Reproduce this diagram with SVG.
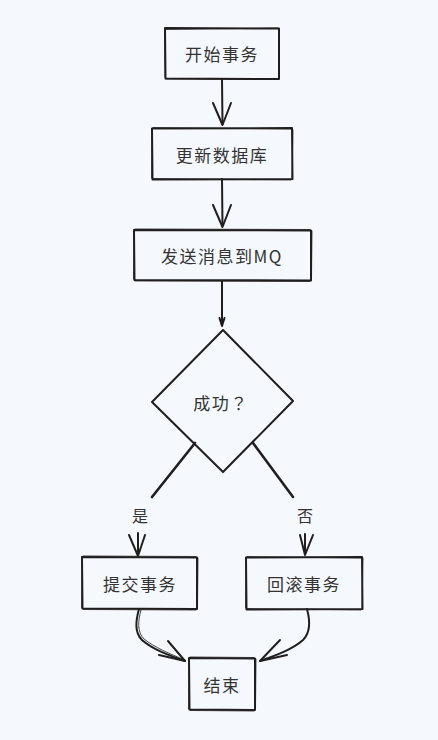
<svg xmlns="http://www.w3.org/2000/svg" width="438" height="740" viewBox="0 0 438 740">
<defs>
<style>
.bg{fill:#f5f9fd}
.box{fill:none;stroke:#1f1f1f;stroke-width:2;stroke-linejoin:round;stroke-linecap:round}
.box2{fill:none;stroke:#1f1f1f;stroke-width:1;stroke-linecap:round;opacity:0.8}
.edge{fill:none;stroke:#1f1f1f;stroke-width:2;stroke-linecap:round;stroke-linejoin:round}
.t{font-family:"Noto Sans CJK SC","Noto Sans",sans-serif;font-size:17px;fill:#333;text-anchor:middle;dominant-baseline:central;letter-spacing:1.5px}
.tq{font-family:"Noto Sans CJK TC","Noto Sans CJK SC",sans-serif}
.lbl{font-family:"Noto Sans CJK SC","Noto Sans",sans-serif;font-size:16px;fill:#333;text-anchor:middle;dominant-baseline:central}
</style>
</defs>
<rect class="bg" x="0" y="0" width="438" height="740"/>

<g id="connectors">
  <path class="edge" d="M222,79 L222.5,124"/>
  <path class="edge" d="M213,103 L222.5,125 L231,103"/>
  <path class="edge" d="M222,179 L222.5,226"/>
  <path class="edge" d="M213,205 L222.5,227 L231,205"/>
  <path class="edge" d="M222,281 L222,325"/>
  <path class="edge" d="M219.5,318 L222,326 L224.5,318"/>
  <path class="edge" d="M195,443 L152,497" style="stroke-width:2.6"/>
  <path class="edge" d="M138,533 L138,555"/>
  <path class="edge" d="M129,535 L138,556 L145,535"/>
  <path class="edge" d="M253,443 L293,497" style="stroke-width:2.6"/>
  <path class="edge" d="M305,534 L305,554"/>
  <path class="edge" d="M300,535 L305,555 L313,535"/>
  <path class="edge" d="M139,609 C136,620 134,632 142,640 C152,649 168,655 185,661"/>
  <path class="box2" d="M141,610 C138,621 137,632 144,639 C154,647 170,654 185,660"/>
  <path class="edge" d="M168,641 L185,661 L159,655"/>
  <path class="edge" d="M307,609 C310,620 311,632 303,640 C293,649 277,655 260,661"/>
  <path class="edge" d="M280,640 L260,661 L287,655"/>
</g>

<g id="node-start">
  <path class="box" d="M165,28 L279,28.5 L279,79 L165.5,78.5 Z"/>
  <path class="box2" d="M166,29.5 L278,28 M278.5,30 L279.5,78 M278,79.5 L166,79 M165,77 L164.5,30"/>
  <text class="t" x="222" y="53">开始事务</text>
</g>

<g id="node-update">
  <path class="box" d="M152,128.5 L292,128 L292.5,179 L152.5,179.5 Z"/>
  <path class="box2" d="M153,127.5 L291,129 M293,130 L292,178 M291,180 L153,178.5 M151.5,178 L152,130"/>
  <text class="t" x="222" y="154">更新数据库</text>
</g>

<g id="node-send">
  <path class="box" d="M134,230 L311,230.5 L311,280.5 L134.5,280 Z"/>
  <path class="box2" d="M135,229 L310,229.5 M312,231 L311.5,279 M310,281.5 L135,281 M133.5,279 L134,231"/>
  <text class="t" x="222" y="255">发送消息到MQ</text>
</g>

<g id="node-decision">
  <path class="box" d="M223,330 L293,401 L223,472 L152,402 Z"/>
  <path class="box2" d="M224,331 L292.5,400 M292,402 L224,471 M222,471 L153,403 M153,401 L222,331"/>
  <text class="t tq" x="221" y="402">成功？</text>
</g>

<text class="lbl" x="140" y="515">是</text>
<text class="lbl" x="305" y="515">否</text>

<g id="node-commit">
  <path class="box" d="M82,557 L197,557.5 L197,609 L82.5,608.5 Z"/>
  <path class="box2" d="M83,556 L196,556.5 M198,558 L197.5,608 M196,610 L83,609.5 M81.5,608 L82,558"/>
  <text class="t" x="140" y="583">提交事务</text>
</g>

<g id="node-rollback">
  <path class="box" d="M246,557.5 L362,557 L362.5,609 L246.5,609.5 Z"/>
  <path class="box2" d="M247,556.5 L361,558 M363,558 L362,608 M361,610 L247,608.5 M245.5,608 L246,558"/>
  <text class="t" x="304" y="583">回滚事务</text>
</g>

<g id="node-end">
  <path class="box" d="M189,658 L255,658.5 L255,710 L189.5,709.5 Z"/>
  <path class="box2" d="M190,657 L254,657.5 M256,659 L255.5,709 M254,711 L190,710.5 M188.5,709 L189,659"/>
  <text class="t" x="222" y="684">结束</text>
</g>
</svg>
